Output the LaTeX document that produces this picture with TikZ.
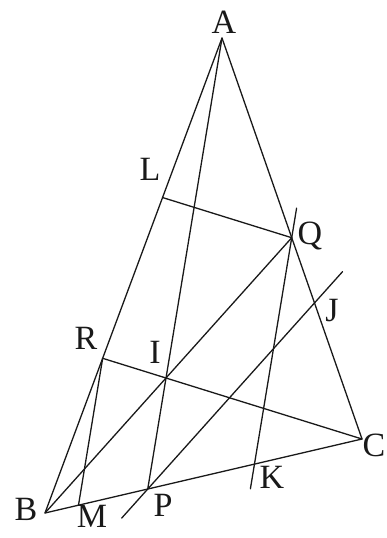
\documentclass[tikz,border=0pt]{standalone}
\usepackage{fontspec}
\setmainfont{Liberation Serif}
\usetikzlibrary{calc}
\begin{document}
\begin{tikzpicture}[x=1pt,y=-1pt,
  seg/.style={line width=1.3pt, draw=black!90, line cap=round, line join=round},
  lbl/.style={font=\fontsize{34}{34}\selectfont, inner sep=0pt, text height=0.66em, text depth=0pt, text=black!90}]
\useasboundingbox (0,0) rectangle (386,538);
% main points
\coordinate (A) at (222,38);
\coordinate (B) at (45,513);
\coordinate (C) at (362,439);
\coordinate (I) at (166,378);
\coordinate (P) at (intersection of A--I and B--C);
\coordinate (Q) at (intersection of B--I and A--C);
\coordinate (R) at (intersection of C--I and A--B);
\coordinate (Rd) at ($(R)+(P)-(A)$);
\coordinate (M) at (intersection of R--Rd and B--C);
\coordinate (Qd) at ($(Q)+(P)-(A)$);
\coordinate (K) at (intersection of Q--Qd and B--C);
\coordinate (Pd) at ($(P)+(Q)-(B)$);
\coordinate (J) at (intersection of P--Pd and A--C);
\coordinate (Qe) at ($(Q)+(R)-(C)$);
\coordinate (L) at (intersection of Q--Qe and A--B);
% free ends of extended lines
\coordinate (Kt) at ($(Q)!-30pt!(K)$);
\coordinate (Kb) at ($(K)!-25pt!(Q)$);
\coordinate (Jt) at ($(J)!-42pt!(P)$);
\coordinate (Jb) at ($(P)!-39pt!(J)$);
% triangle
\draw[seg] (A) -- (B) -- (C) -- cycle;
% cevians through I
\draw[seg] (A) -- (P);
\draw[seg] (B) -- (Q);
\draw[seg] (R) -- (C);
% parallels
\draw[seg] (L) -- (Q);
\draw[seg] (R) -- (M);
\draw[seg] (Kt) -- (Kb);
\draw[seg] (Jb) -- (Jt);
% labels
\node[lbl] (lA) at (224,30) {A};
\node[lbl] (lL) at (150,177) {L};
\node[lbl] (lQ) at (310,241) {Q};
\node[lbl] (lR) at (86,346) {R};
\node[lbl] (lI) at (155,360) {I};
\node[lbl] (lJ) at (332,318) {J};
\node[lbl] (lC) at (374,453) {C};
\node[lbl] (lK) at (272,485) {K};
\node[lbl] (lP) at (163,513) {P};
\node[lbl] (lB) at (26,517) {B};
\node[lbl] (lM) at (92,524) {M};
\end{tikzpicture}
\end{document}
